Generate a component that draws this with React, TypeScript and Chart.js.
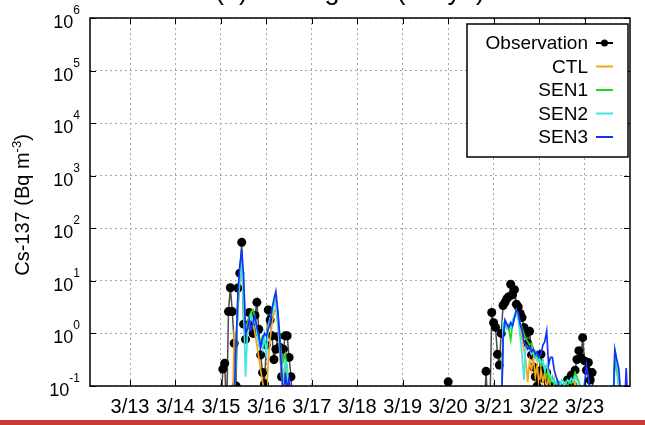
import React, { useEffect, useRef } from "react";
import { Chart, registerables } from "chart.js";

Chart.register(...registerables);

const FONT = '"Liberation Sans", Arial, Helvetica, sans-serif';

// ---- axes ----
const xMin = 12.12;
const xMax = 24;
const xTickDays = [13, 14, 15, 16, 17, 18, 19, 20, 21, 22, 23];
const xTickLabels = ["3/13", "3/14", "3/15", "3/16", "3/17", "3/18", "3/19", "3/20", "3/21", "3/22", "3/23"];
const yTickValues = [0.1, 1, 10, 100, 1e3, 1e4, 1e5, 1e6];
const yTickExponents = ["-1", "0", "1", "2", "3", "4", "5", "6"];
const titleText = "(a) Shinagawa (Tokyo)";

// ---- series meta ----
const seriesLabels = ["Observation", "CTL", "SEN1", "SEN2", "SEN3"];
const seriesColors = ["#4a4a4a", "#f5a41c", "#1ed81e", "#3fe6e6", "#1432ff"];

// ---- Observation (hourly; start = [day of March, hour]) ----
const obsStart1 = [15, 0];
const obs1 = [0.03, 0.21, 0.27, 0.03, 2.6, 7.4, 2.6, 0.65, 0.1, 7.3, 14, 54, 1.5, 0.77, 1.4, 2.5, 1.6, 1.0, 2.2, 3.9,
  1.2, 0.39, 0.18, 0.11, 0.6, 2.8, 1.8, 0.9, 0.32, 0.5, 0.87, 0.55, 0.15, 0.5, 0.9, 0.9, 0.35, 0.15, 0.03];
const obsStart2 = [20, 0];
const obs2 = [0.12];
const obsStart3 = [20, 19];
const obs3 = [0.03, 0.19, 0.03, 0.03, 2.5, 1.6, 1.3, 0.4, 0.25, 1.0, 3.4, 3.9, 4.6, 5.0, 8.6, 5.4, 6.8, 3.6, 3.2, 2.4,
  2.0, 1.3, 1.0, 0.65, 1.1, 0.39, 0.23, 0.15, 0.1, 0.19, 0.4, 0.14, 0.2, 0.18, 0.11, 0.09, 0.1, 0.06];
const obsStart4 = [22, 13];
const obs4 = [0.05, 0.08, 0.13, 0.1, 0.16, 0.1, 0.2, 0.32, 0.47, 0.35, 0.83, 0.3, 0.2, 0.28, 0.13, 0.18, 0.04];

// ---- Model runs (hourly) ----
const modelStart1 = [15, 6];
const ctl1 = [0.02, 1.0, 0.8, 3, 10, 18, 5, 1.2, 1.5, 2.0, 2.5, 1.5, 1.0, 0.6, 0.35, 0.2, 0.12, 0.08, 0.05, 0.3,
  0.8, 1.5, 2.5, 3.0, 1.5, 0.5, 0.15, 0.08, 0.2, 0.1, 0.03, 0.02];
const sen1_1 = [0.02, 0.03, 0.4, 3, 12, 24, 8, 1.5, 1.5, 2.0, 2.5, 2.8, 2.0, 1.2, 0.8, 0.7, 0.9, 0.9, 1.0, 1.3,
  1.8, 2.5, 3.5, 4.5, 2.5, 1.0, 0.35, 0.3, 0.4, 0.2, 0.05, 0.02];
const sen2_1 = [0.02, 0.03, 0.5, 4, 12, 20, 3, 0.15, 1.0, 1.5, 2.2, 1.5, 1.8, 1.0, 0.6, 0.7, 0.5, 0.9, 0.35, 1.4,
  2.0, 2.2, 3.5, 4.0, 1.5, 0.6, 0.3, 0.15, 0.3, 0.25, 0.05, 0.02];
const sen3_1 = [0.02, 0.05, 0.6, 6, 20, 39, 12, 1.0, 1.2, 1.8, 1.2, 1.6, 2.1, 1.3, 0.9, 0.56, 0.8, 1.0, 0.9, 1.2,
  1.6, 3.0, 4.5, 6.3, 2.8, 0.9, 0.2, 0.05, 0.18, 0.08, 0.15, 0.03];

const modelStart2 = [21, 4];
const ctl2 = [0.02, 1.2, 1.6, 1.3, 1.2, 1.2, 1.6, 2.0, 2.5, 2.0, 1.2, 0.8, 0.5, 0.3, 0.12, 0.3, 0.2, 0.35, 0.15, 0.25,
  0.1, 0.2, 0.12, 0.18, 0.08, 0.15, 0.1, 0.06, 0.12, 0.05, 0.08, 0.04, 0.06, 0.03, 0.05, 0.04, 0.06, 0.05, 0.08, 0.12,
  0.09, 0.06, 0.05, 0.04, 0.05, 0.03, 0.04, 0.03, 0.02, 0.02];
const sen1_2 = [0.02, 0.9, 1.6, 1.4, 1.2, 0.75, 1.5, 2.0, 2.8, 2.2, 1.6, 1.3, 1.0, 0.8, 0.7, 0.6, 0.65, 0.5, 0.45, 0.35,
  0.3, 0.25, 0.3, 0.2, 0.15, 0.2, 0.12, 0.15, 0.11, 0.12, 0.1, 0.12, 0.1, 0.11, 0.12, 0.1, 0.12, 0.11, 0.13, 0.18,
  0.15, 0.12, 0.1, 0.08, 0.1, 0.07, 0.05, 0.03, 0.02, 0.02];
const sen2_2 = [0.02, 1.6, 1.4, 1.2, 1.5, 1.3, 1.8, 2.2, 2.5, 1.8, 0.9, 0.4, 0.13, 0.6, 0.55, 0.5, 0.4, 0.45, 0.35, 0.3,
  0.35, 0.28, 0.3, 0.2, 0.25, 0.18, 0.15, 0.12, 0.13, 0.11, 0.12, 0.1, 0.13, 0.12, 0.11, 0.13, 0.12, 0.14, 0.12, 0.15,
  0.13, 0.11, 0.1, 0.09, 0.12, 0.1, 0.06, 0.04, 0.02, 0.02];
const sen3_2 = [0.02, 0.8, 1.8, 1.5, 1.3, 1.6, 1.4, 2.0, 2.8, 2.5, 1.5, 1.2, 0.7, 0.6, 0.5, 0.55, 0.45, 0.5, 0.4, 0.45,
  0.35, 0.4, 0.6, 0.7, 1.1, 0.25, 0.35, 0.35, 0.2, 0.15, 0.12, 0.08, 0.1, 0.07, 0.05, 0.04, 0.05, 0.06, 0.08, 0.07,
  0.06, 0.08, 0.09, 0.07, 0.1, 0.25, 0.15, 0.05, 0.03, 0.02];

const modelStart3 = [23, 14];
const ctl3 = [0.02, 0.03, 0.4, 0.3, 0.1, 0.03];
const sen1_3 = [0.02, 0.03, 0.3, 0.2, 0.1, 0.03];
const sen2_3 = [0.02, 0.04, 0.5, 0.3, 0.1, 0.03];
const sen3_3 = [0.02, 0.03, 0.49, 0.32, 0.22, 0.08, 0.04, 0.03, 0.22, 0.03];

type P = { x: number; y: number | null };
const seg = (start: number[], vals: number[]): P[] =>
  vals.map((v, i) => ({ x: start[0] + (start[1] + i) / 24, y: v }));
const join = (...parts: P[][]): P[] =>
  parts.flatMap((p, k) => (k === 0 ? p : [{ x: p[0].x - 0.01, y: null }, ...p]));

const obsData = join(seg(obsStart1, obs1), seg(obsStart2, obs2), seg(obsStart3, obs3), seg(obsStart4, obs4));
const ctlData = join(seg(modelStart1, ctl1), seg(modelStart2, ctl2), seg(modelStart3, ctl3));
const sen1Data = join(seg(modelStart1, sen1_1), seg(modelStart2, sen1_2), seg(modelStart3, sen1_3));
const sen2Data = join(seg(modelStart1, sen2_1), seg(modelStart2, sen2_2), seg(modelStart3, sen2_3));
const sen3Data = join(seg(modelStart1, sen3_1), seg(modelStart2, sen3_2), seg(modelStart3, sen3_3));

const decorPlugin = {
  id: "decor",
  afterDatasetsDraw(chart: any) {
    const { ctx, chartArea: ca, scales } = chart;
    const xs = scales.x;
    const ys = scales.y;
    ctx.save();
    ctx.strokeStyle = "#000";
    ctx.lineWidth = 1;
    ctx.beginPath();
    xTickDays.forEach((d) => {
      const px = Math.round(xs.getPixelForValue(d)) + 0.5;
      ctx.moveTo(px, ca.bottom);
      ctx.lineTo(px, ca.bottom - 6);
      ctx.moveTo(px, ca.top);
      ctx.lineTo(px, ca.top + 6);
    });
    yTickValues.forEach((v) => {
      const py = Math.round(ys.getPixelForValue(v)) + 0.5;
      ctx.moveTo(ca.left, py);
      ctx.lineTo(ca.left + 6, py);
      ctx.moveTo(ca.right, py);
      ctx.lineTo(ca.right - 6, py);
    });
    ctx.stroke();
    ctx.lineWidth = 1.5;
    ctx.strokeRect(ca.left, ca.top, ca.right - ca.left, ca.bottom - ca.top);
    ctx.restore();
  },
  afterDraw(chart: any) {
    const { ctx, chartArea: ca, scales } = chart;
    const ys = scales.y;
    ctx.save();
    ctx.fillStyle = "#000";

    // y tick labels with superscripts
    yTickValues.forEach((v, i) => {
      const py = ys.getPixelForValue(v);
      ctx.font = `18px ${FONT}`;
      const w1 = ctx.measureText("10").width;
      ctx.font = `12px ${FONT}`;
      const w2 = ctx.measureText(yTickExponents[i]).width;
      const right = ca.left - 10;
      ctx.textAlign = "left";
      ctx.textBaseline = "alphabetic";
      ctx.font = `18px ${FONT}`;
      ctx.fillText("10", right - w2 - w1, py + 10);
      ctx.font = `12px ${FONT}`;
      ctx.fillText(yTickExponents[i], right - w2, py - 4);
    });

    // y axis title
    ctx.save();
    ctx.translate(29, (ca.top + ca.bottom) / 2 + 3);
    ctx.rotate(-Math.PI / 2);
    const p1 = "Cs-137 (Bq m";
    const p2 = "-3";
    const p3 = ")";
    ctx.font = `20px ${FONT}`;
    const a = ctx.measureText(p1).width;
    const c = ctx.measureText(p3).width;
    ctx.font = `13px ${FONT}`;
    const b = ctx.measureText(p2).width;
    let sx = -(a + b + c) / 2;
    ctx.textAlign = "left";
    ctx.textBaseline = "alphabetic";
    ctx.font = `20px ${FONT}`;
    ctx.fillText(p1, sx, 0);
    sx += a;
    ctx.font = `13px ${FONT}`;
    ctx.fillText(p2, sx, -8);
    sx += b;
    ctx.font = `20px ${FONT}`;
    ctx.fillText(p3, sx, 0);
    ctx.restore();

    // legend box
    const bx = ca.right - 163;
    const by = ca.top + 6;
    const bw = 161;
    const bh = 133;
    ctx.fillStyle = "#fff";
    ctx.fillRect(bx, by, bw, bh);
    ctx.strokeStyle = "#000";
    ctx.lineWidth = 1.5;
    ctx.strokeRect(bx, by, bw, bh);
    ctx.font = `19px ${FONT}`;
    ctx.textAlign = "right";
    ctx.textBaseline = "middle";
    chart.data.datasets.forEach((ds: any, i: number) => {
      const ry = by + 19 + i * 23.5;
      ctx.fillStyle = "#000";
      ctx.fillText(ds.label, bx + bw - 40, ry + 1);
      ctx.strokeStyle = i === 0 ? "#000" : ds.borderColor;
      ctx.lineWidth = 2;
      ctx.beginPath();
      ctx.moveTo(bx + bw - 32, ry);
      ctx.lineTo(bx + bw - 15, ry);
      ctx.stroke();
      if (i === 0) {
        ctx.beginPath();
        ctx.arc(bx + bw - 23.5, ry, 3.5, 0, Math.PI * 2);
        ctx.fillStyle = "#000";
        ctx.fill();
      }
    });

    // title (cropped at the top of the figure: only descenders show)
    ctx.fillStyle = "#000";
    ctx.font = `27px ${FONT}`;
    ctx.textAlign = "center";
    ctx.textBaseline = "alphabetic";
    ctx.fillText(titleText, 350, -1.5);
    ctx.restore();
  },
};

export default function App() {
  const ref = useRef<HTMLCanvasElement>(null);
  useEffect(() => {
    const mk = (i: number, data: P[], order: number, extra: any = {}) => ({
      label: seriesLabels[i],
      data,
      borderColor: seriesColors[i],
      backgroundColor: seriesColors[i],
      borderWidth: 1.7,
      pointRadius: 0,
      tension: 0,
      spanGaps: false,
      order,
      ...extra,
    });
    const chart = new Chart(ref.current as HTMLCanvasElement, {
      type: "line",
      data: {
        datasets: [
          mk(0, obsData, 5, {
            pointRadius: 4.5,
            pointBackgroundColor: "#000",
            pointBorderWidth: 0,
            borderWidth: 1.5,
          }),
          mk(1, ctlData, 4),
          mk(2, sen1Data, 3),
          mk(3, sen2Data, 2),
          mk(4, sen3Data, 1),
        ],
      },
      options: {
        animation: false,
        responsive: false,
        devicePixelRatio: 1,
        layout: { padding: { top: 18, right: 15, left: 0, bottom: 0 } },
        plugins: {
          legend: { display: false },
          tooltip: { enabled: false },
          title: { display: false },
        },
        scales: {
          x: {
            type: "linear",
            min: xMin,
            max: xMax,
            afterBuildTicks: (s: any) => {
              s.ticks = xTickDays.map((v) => ({ value: v }));
            },
            afterFit: (s: any) => {
              s.height = 34;
            },
            grid: { color: "#a6a6a6", lineWidth: 1, drawTicks: false },
            border: { display: false, dash: [2, 3] },
            ticks: {
              color: "#000",
              font: { family: FONT, size: 20 },
              padding: 9,
              maxRotation: 0,
              autoSkip: false,
              callback: (v: any) => xTickLabels[xTickDays.indexOf(Number(v))] ?? "",
            },
          },
          y: {
            type: "logarithmic",
            min: 0.1,
            max: 1e6,
            afterBuildTicks: (s: any) => {
              s.ticks = yTickValues.map((v) => ({ value: v }));
            },
            afterFit: (s: any) => {
              s.width = 90;
            },
            grid: { color: "#a6a6a6", lineWidth: 1, drawTicks: false },
            border: { display: false, dash: [2, 3] },
            ticks: { display: false },
          },
        },
      },
      plugins: [decorPlugin],
    } as any);
    return () => chart.destroy();
  }, []);

  return (
    <div
      style={{
        position: "fixed",
        left: 0,
        top: 0,
        width: 645,
        height: 425,
        background: "#fff",
        overflow: "hidden",
      }}
    >
      <canvas ref={ref} width={645} height={420} style={{ display: "block", width: 645, height: 420 }} />
      <div style={{ position: "absolute", left: 0, top: 420, width: 645, height: 5, background: "#cf3a32" }} />
    </div>
  );
}
